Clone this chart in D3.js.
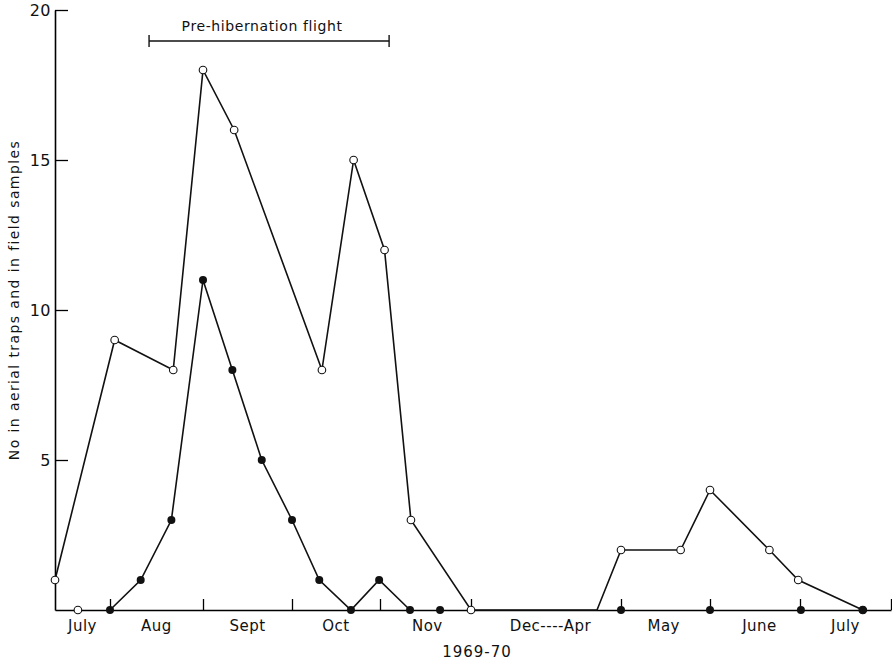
<!DOCTYPE html>
<head>
	<script src="https://d3js.org/d3.v7.min.js"></script>
	<style>
		body { margin: 0; background: #fff; }
		text { font-family: "DejaVu Sans", sans-serif; fill: #111; }
	</style>
</head>
<body>
	<script type="text/javascript">

		// sampling dates in month units (0 = 1 July 1969, Dec-Apr squeezed), counts
		var openDates  = [0.4, 0.65, 1.05, 1.68, 2.0, 2.35, 3.34, 3.7, 4.05, 4.34, 5.0, 9.2, 10.0, 10.67, 11.0, 11.66, 11.98, 12.69];
		var openCounts = [1, 0, 9, 8, 18, 16, 8, 15, 12, 3, 0, 0, 2, 2, 4, 2, 1, 0];
		var openMarker = [1, 1, 1, 1, 1, 1, 1, 1, 1, 1, 1, 0, 1, 1, 1, 1, 1, 1];
		var openOnLine = [1, 0, 1, 1, 1, 1, 1, 1, 1, 1, 1, 1, 1, 1, 1, 1, 1, 1];

		var fieldDates  = [1.0, 1.33, 1.66, 2.0, 2.33, 2.66, 3.0, 3.31, 3.67, 3.99, 4.33, 4.66, 10.0, 11.0, 12.01, 12.69];
		var fieldCounts = [0, 1, 3, 11, 8, 5, 3, 1, 0, 1, 0, 0, 0, 0, 0, 0];

		var monthTicks = [1, 2, 3, 4, 5, 10, 11, 12, 13];
		var monthLabels = ["July", "Aug", "Sept", "Oct", "Nov", "Dec----Apr", "May", "June", "July"];
		var monthLabelPos = [0.7, 1.5, 2.5, 3.5, 4.52, 7.65, 10.48, 11.55, 12.5];
		var yTicks = [5, 10, 15, 20];
		var flight = [1.42, 4.1];

		var w = 892;
		var h = 662;
		var svg = d3.select("body")
				.append("svg")
				.attr("width", w)
				.attr("height", h);

		// piecewise month scale: each month ~90px, Dec-Apr compressed
		var x = d3.scaleLinear()
				.domain([0.4, 1, 2, 3, 4, 5, 10, 11, 12, 13])
				.range([55, 110, 203, 292, 380, 471, 621, 710, 800, 891]);
		var y = d3.scaleLinear()
				.domain([0, 20])
				.range([610, 10]);

		var yAxis = d3.axisLeft(y)
				.tickValues(yTicks)
				.tickSizeInner(-13)
				.tickSizeOuter(0)
				.tickPadding(4)
				.tickFormat(d3.format("d"));
		var gy = svg.append("g")
				.attr("transform", "translate(" + x(0.4) + ",0)")
				.call(yAxis);
		gy.select(".domain").attr("stroke-width", 1.6);
		gy.selectAll(".tick line").attr("stroke-width", 1.3);
		gy.selectAll("text")
			.style("font-size", "16px")
			.style("font-family", "DejaVu Sans")
			.style("letter-spacing", "0.5px")
			.attr("fill", "#111");

		var xAxis = d3.axisBottom(x)
				.tickValues(monthTicks)
				.tickSizeInner(-11)
				.tickSizeOuter(0)
				.tickFormat("");
		var gx = svg.append("g")
				.attr("transform", "translate(0," + y(0) + ")")
				.call(xAxis);
		gx.select(".domain").attr("stroke-width", 1.6);
		gx.selectAll(".tick line").attr("stroke-width", 1.3);

		svg.selectAll(".mlabel")
			.data(monthLabels)
			.enter()
			.append("text")
			.attr("class", "mlabel")
			.attr("x", function(d, i){ return x(monthLabelPos[i]); })
			.attr("y", 631)
			.attr("text-anchor", "middle")
			.style("font-size", "15px")
			.style("letter-spacing", "0.5px")
			.text(function(d){ return d; });

		svg.append("text")
			.attr("x", 477)
			.attr("y", 657)
			.attr("text-anchor", "middle")
			.style("font-size", "15px")
			.style("letter-spacing", "1px")
			.text("1969-70");

		svg.append("text")
			.attr("transform", "translate(19,300) rotate(-90)")
			.attr("text-anchor", "middle")
			.style("font-size", "14px")
			.style("letter-spacing", "1.4px")
			.text("No in aerial traps and in field samples");

		// pre-hibernation bar
		var fy = 41;
		svg.append("line")
			.attr("x1", x(flight[0])).attr("x2", x(flight[1]))
			.attr("y1", fy).attr("y2", fy)
			.attr("stroke", "#111").attr("stroke-width", 1.4);
		svg.selectAll(".cap")
			.data(flight)
			.enter()
			.append("line")
			.attr("class", "cap")
			.attr("x1", function(d){ return x(d); })
			.attr("x2", function(d){ return x(d); })
			.attr("y1", fy - 6).attr("y2", fy + 6)
			.attr("stroke", "#111").attr("stroke-width", 1.4);
		svg.append("text")
			.attr("x", (x(flight[0]) + x(flight[1])) / 2 - 7)
			.attr("y", 31)
			.attr("text-anchor", "middle")
			.style("font-size", "14px")
			.style("letter-spacing", "0.6px")
			.text("Pre-hibernation flight");

		var line = d3.line()
				.x(function(d){ return x(d[0]); })
				.y(function(d){ return y(d[1]); });

		var openData = openDates.map(function(d, i){ return [d, openCounts[i], openMarker[i], openOnLine[i]]; });
		var fieldData = fieldDates.map(function(d, i){ return [d, fieldCounts[i]]; });

		svg.append("path")
			.datum(openData.filter(function(d){ return d[3]; }))
			.attr("d", line)
			.attr("fill", "none")
			.attr("stroke", "#111")
			.attr("stroke-width", 1.6);
		svg.append("path")
			.datum(fieldData.slice(0, 11))
			.attr("d", line)
			.attr("fill", "none")
			.attr("stroke", "#111")
			.attr("stroke-width", 1.6);

		svg.selectAll(".open")
			.data(openData.filter(function(d){ return d[2]; }))
			.enter()
			.append("circle")
			.attr("class", "open")
			.attr("cx", function(d){ return x(d[0]); })
			.attr("cy", function(d){ return y(d[1]); })
			.attr("r", 3.8)
			.attr("fill", "#fff")
			.attr("stroke", "#111")
			.attr("stroke-width", 1.1);

		svg.selectAll(".field")
			.data(fieldData)
			.enter()
			.append("circle")
			.attr("class", "field")
			.attr("cx", function(d){ return x(d[0]); })
			.attr("cy", function(d){ return y(d[1]); })
			.attr("r", 4)
			.attr("fill", "#111");

	</script>
</body>
